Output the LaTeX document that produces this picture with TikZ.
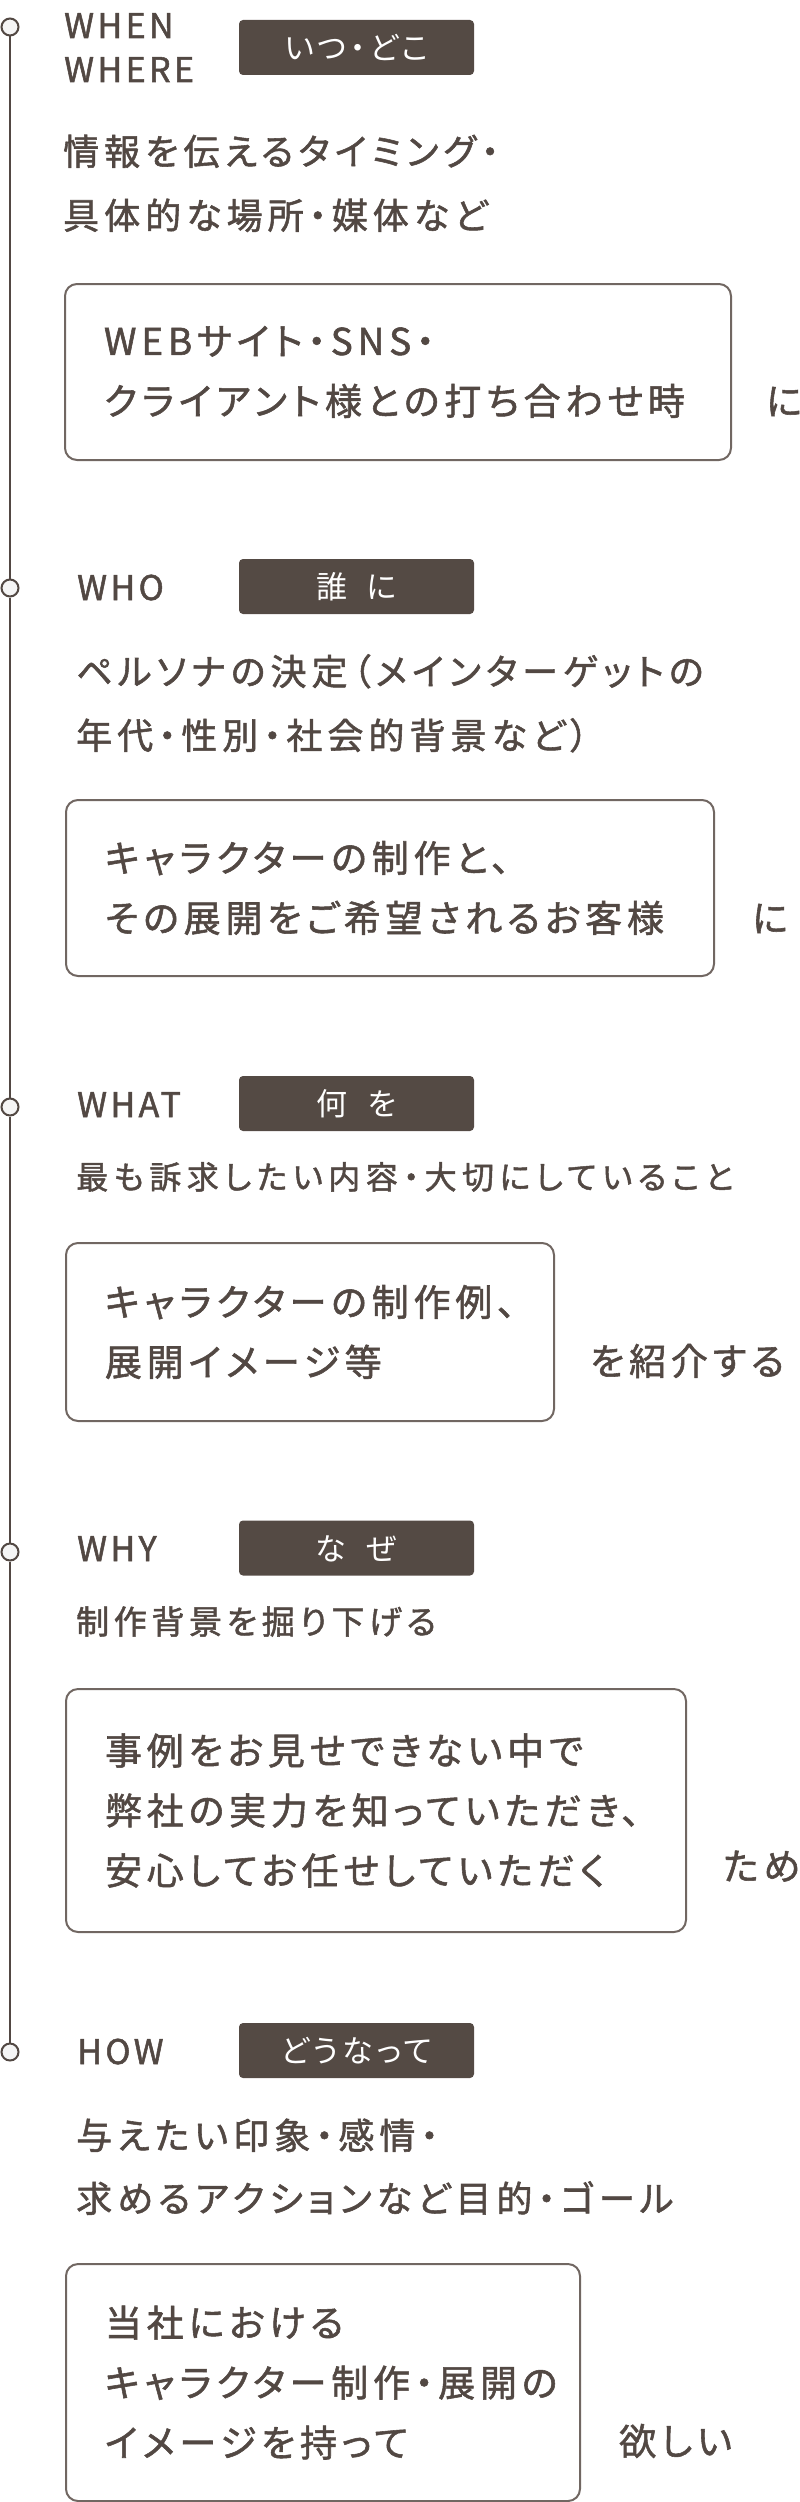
\documentclass[tikz,border=0pt]{standalone}
\usepackage{fontspec}
\setmainfont{Noto Sans CJK JP}
\newfontfamily\jpfont[RawFeature=+palt,FakeBold=1.5]{Noto Sans CJK JP}
\newfontfamily\tagfont[RawFeature=+palt]{Noto Sans CJK JP}
\definecolor{ink}{HTML}{524843}
\definecolor{tagfill}{HTML}{544A44}
\definecolor{frame}{HTML}{716762}
\definecolor{dotfill}{HTML}{F5F5F5}

\begin{document}
\begin{tikzpicture}[x=1pt,y=1pt]
\tikzstyle{every node}+=[inner sep=0pt,text=ink]
\tikzstyle{dot}=[circle,draw=ink,line width=2pt,fill=dotfill,minimum size=17pt]
\tikzstyle{wlabel}=[anchor=base west,align=left,font=\jpfont\addfontfeature{LetterSpace=10}\fontsize{34}{44}\selectfont]
\tikzstyle{badge}=[fill=tagfill,rounded corners=4pt,minimum width=235pt,minimum height=55pt,text=white,text height=26pt,text depth=2pt,font=\tagfont\addfontfeature{LetterSpace=12}\fontsize{31}{31}\selectfont]
\tikzstyle{hint}=[anchor=base west,align=left,font=\jpfont\addfontfeature{LetterSpace=14}\fontsize{36}{64}\selectfont]
\tikzstyle{answer}=[anchor=north west,draw=frame,line width=2pt,rounded corners=12pt,align=left,inner xsep=39pt,font=\jpfont\addfontfeature{LetterSpace=13}\fontsize{37}{60}\selectfont]
\tikzstyle{tail}=[anchor=base west,font=\jpfont\addfontfeature{LetterSpace=13}\fontsize{37}{60}\selectfont]
\useasboundingbox (0,0) rectangle (800,-2502);
% timeline
\draw (10,-27) node [dot] (d1) {};
\draw (10,-588) node [dot] (d2) {};
\draw (10,-1107) node [dot] (d3) {};
\draw (10,-1552) node [dot] (d4) {};
\draw (10,-2052) node [dot] (d5) {};
\draw [ink,line width=1.5pt] (d1) -- (d2) -- (d3) -- (d4) -- (d5);
% when / where
\draw (64,-82) node [wlabel] (when) {WHEN\\WHERE};
\draw (356.5,-47.5) node [badge] (whentag) {いつ・どこ};
\draw (63,-229) node [hint] (whenhint) {情報を伝えるタイミング・\\具体的な場所・媒体など};
\draw (64,-283) node [answer,text width=588pt,minimum height=176pt] (whenbox) {WEBサイト・SNS・\\クライアント様との打ち合わせ時};
\draw (766,-415) node [tail] (whentail) {に};
% who
\draw (77,-600) node [wlabel] (who) {WHO};
\draw (356.5,-586.5) node [badge] (whotag) {誰\hspace{20pt}に};
\draw (76,-749) node [hint] (whohint) {ペルソナの決定（メインターゲットの\\年代・性別・社会的背景など）};
\draw (65,-799) node [answer,text width=570pt,minimum height=176pt] (whobox) {キャラクターの制作と、\\その展開をご希望されるお客様};
\draw (752,-932) node [tail] (whotail) {に};
% what
\draw (77,-1117) node [wlabel] (what) {WHAT};
\draw (356.5,-1103.5) node [badge] (whattag) {何\hspace{20pt}を};
\draw (76,-1189) node [hint,font=\jpfont\addfontfeature{LetterSpace=17}\fontsize{32}{64}\selectfont] (whathint) {最も訴求したい内容・大切にしていること};
\draw (65,-1242) node [answer,text width=410pt,minimum height=178pt] (whatbox) {キャラクターの制作例、\\展開イメージ等};
\draw (590,-1375) node [tail] (whattail) {を紹介する};
% why
\draw (77,-1561) node [wlabel] (why) {WHY};
\draw (356.5,-1548) node [badge] (whytag) {な\hspace{20pt}ぜ};
\draw (76,-1634) node [hint,font=\jpfont\addfontfeature{LetterSpace=14}\fontsize{33}{64}\selectfont] (whyhint) {制作背景を掘り下げる};
\draw (65,-1688) node [answer,text width=542pt,minimum height=243pt] (whybox) {事例をお見せできない中で\\弊社の実力を知っていただき、\\安心してお任せしていただく};
\draw (723,-1880) node [tail] (whytail) {ため};
% how
\draw (77,-2064) node [wlabel] (how) {HOW};
\draw (356.5,-2050.5) node [badge] (howtag) {どうなって};
\draw (76,-2212) node [hint,font=\jpfont\addfontfeature{LetterSpace=14}\fontsize{36}{63}\selectfont] (howhint) {与えたい印象・感情・\\求めるアクションなど目的・ゴール};
\draw (65,-2263) node [answer,text width=436pt,minimum height=237pt] (howbox) {当社における\\キャラクター制作・展開の\\イメージを持って};
\draw (619,-2455) node [tail] (howtail) {欲しい};
\end{tikzpicture}
\end{document}
